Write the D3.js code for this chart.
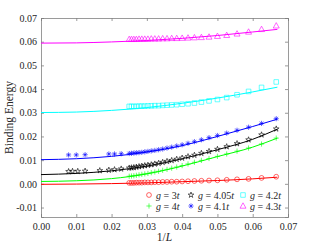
<!DOCTYPE html>
<html>
<head>
<meta charset="utf-8">
<script src="https://cdn.jsdelivr.net/npm/d3@7"></script>
<style>
  html, body { margin: 0; padding: 0; background: #fff; }
  text { font-family: "Liberation Serif", "DejaVu Serif", serif; fill: #262626; }
</style>
</head>
<body>
<div id="chart"></div>
<script>
const width = 319
const height = 246
const margin = { top: 18, right: 31, bottom: 29, left: 41 }

const xTicks = [0, 0.01, 0.02, 0.03, 0.04, 0.05, 0.06, 0.07]
const yTicks = [-0.01, 0, 0.01, 0.02, 0.03, 0.04, 0.05, 0.06, 0.07]

// system sizes L, plotted at 1/L
const sizesL = [15, 16, 17, 18, 19, 20, 21, 22, 23, 24, 25, 26, 27, 28, 29, 30, 31, 32, 33, 34, 35, 36, 37, 38, 39, 40]
const sizesBlack = [15, 16, 17, 18, 19, 20, 21, 22, 23, 24, 25, 26, 27, 28, 29, 30, 31, 32, 33, 34, 35, 36, 37, 38, 39, 40, 44, 48, 52, 60, 80, 96, 112, 128]
const sizesBlue = [15, 16, 17, 18, 19, 20, 21, 22, 23, 24, 25, 26, 27, 28, 29, 30, 31, 32, 33, 34, 35, 36, 37, 38, 39, 40, 44, 48, 52, 80, 100, 128]

const energy3 = [.0030, .0025, .0021, .0019, .0017, .0015, .0014, .0013, .0012, .0011, .0010, .0009, .0009, .0008, .0008, .0007, .0007, .0006, .0006, .0006, .0005, .0005, .0005, .0004, .0004, .0004]
const energy4 = [.0193, .0168, .0151, .0138, .0126, .0116, .0107, .0099, .0091, .0084, .0077, .0071, .0066, .0061, .0057, .0053, .0050, .0047, .0044, .0042, .0040, .0038, .0036, .0034, .0033, .0032]
const energy405 = [.0232, .0207, .0186, .0170, .0157, .0146, .0137, .0129, .0121, .0115, .0109, .0104, .0099, .0095, .0091, .0087, .0084, .0081, .0079, .0077, .0075, .0073, .0071, .0069, .0068, .0067, .0063, .0060, .0058, .0056, .0054, .0053, .0053, .0052]
const energy41 = [.0275, .0255, .0239, .0226, .0214, .0204, .0195, .0186, .0178, .0171, .0165, .0160, .0155, .0151, .0147, .0144, .0141, .0139, .0137, .0135, .0133, .0132, .0131, .0130, .0129, .0128, .0127, .0126, .0126, .0123, .0122, .0122]
const energy42 = [.0430, .0407, .0390, .0376, .0364, .0356, .0350, .0345, .0341, .0338, .0336, .0334, .0333, .0332, .0331, .0330, .0330, .0329, .0329, .0328, .0328, .0328, .0327, .0327, .0327, .0327]
const energy43 = [.0667, .0652, .0641, .0633, .0627, .0623, .0620, .0618, .0617, .0616, .0615, .0614, .0614, .0613, .0613, .0612, .0612, .0612, .0611, .0611, .0611, .0611, .0610, .0610, .0610, .0610]

// fitted curves, read at these 1/L values
const fitX = [0, 0.01, 0.02, 0.03, 0.04, 0.05, 0.06, 0.067]
const fit3 = [-.0002, -.0001, .0001, .0004, .0009, .0014, .0021, .0028]
const fit4 = [.0010, .0013, .0022, .0042, .0075, .0115, .0155, .0193]
const fit405 = [.0039, .0044, .0055, .0075, .0106, .0144, .0188, .0231]
const fit41 = [.0102, .0106, .0116, .0134, .0161, .0200, .0242, .0273]
const fit42 = [.0301, .0303, .0310, .0322, .0340, .0362, .0388, .0408]
const fit43 = [.0594, .0595, .0599, .0605, .0614, .0626, .0641, .0652]

const labels = ['3', '4', '4.05', '4.1', '4.2', '4.3']
const colors = ['#ff0000', '#00ff00', '#000000', '#0000ff', '#00ffff', '#ff00ff']
const markers = ['circle', 'plus', 'star', 'asterisk', 'square', 'triangle']

const series = [
  { L: sizesL, e: energy3, fit: fit3 },
  { L: sizesL, e: energy4, fit: fit4 },
  { L: sizesBlack, e: energy405, fit: fit405 },
  { L: sizesBlue, e: energy41, fit: fit41 },
  { L: sizesL, e: energy42, fit: fit42 },
  { L: sizesL, e: energy43, fit: fit43 },
]

const svg = d3.select('#chart').append('svg')
  .attr('width', width)
  .attr('height', height)

const x = d3.scaleLinear().domain([0, 0.07]).range([margin.left, width - margin.right])
const y = d3.scaleLinear().domain([-0.014, 0.07]).range([height - margin.bottom, margin.top])

// marker paths, centred on 0,0
function markerPath(type) {
  const p = d3.path()
  if (type === 'circle') {
    p.arc(0, 0, 2.4, 0, 2 * Math.PI)
  } else if (type === 'square') {
    p.rect(-2.3, -2.3, 4.6, 4.6)
  } else if (type === 'triangle') {
    p.moveTo(0, -3.2); p.lineTo(3, 2.2); p.lineTo(-3, 2.2); p.closePath()
  } else if (type === 'plus') {
    p.moveTo(-2.6, 0); p.lineTo(2.6, 0); p.moveTo(0, -2.6); p.lineTo(0, 2.6)
  } else if (type === 'asterisk') {
    const r = 2.6, d = r * 0.7071
    p.moveTo(-r, 0); p.lineTo(r, 0); p.moveTo(0, -r); p.lineTo(0, r)
    p.moveTo(-d, -d); p.lineTo(d, d); p.moveTo(-d, d); p.lineTo(d, -d)
  } else if (type === 'star') {
    const R = 3, r = R * 0.382
    for (let i = 0; i < 10; i++) {
      const a = -Math.PI / 2 + i * Math.PI / 5
      const rr = i % 2 === 0 ? R : r
      if (i === 0) p.moveTo(rr * Math.cos(a), rr * Math.sin(a))
      else p.lineTo(rr * Math.cos(a), rr * Math.sin(a))
    }
    p.closePath()
  }
  return p.toString()
}

// axes, ticks pointing inward, box all round
const axisColor = '#808080'
const gx = svg.append('g').attr('transform', `translate(0 ${height - margin.bottom})`)
  .call(d3.axisBottom(x).tickValues(xTicks).tickSize(-3).tickPadding(6).tickFormat(d => d.toFixed(2)))
const gxTop = svg.append('g').attr('transform', `translate(0 ${margin.top})`)
  .call(d3.axisTop(x).tickValues(xTicks).tickSize(-3).tickFormat(''))
const gy = svg.append('g').attr('transform', `translate(${margin.left} 0)`)
  .call(d3.axisLeft(y).tickValues(yTicks).tickSize(-3).tickPadding(4).tickFormat(d => d.toFixed(2)))
const gyRight = svg.append('g').attr('transform', `translate(${width - margin.right} 0)`)
  .call(d3.axisRight(y).tickValues(yTicks).tickSize(-3).tickFormat(''))

;[gx, gxTop, gy, gyRight].forEach(g => {
  g.selectAll('path.domain').attr('stroke', axisColor).attr('stroke-width', 0.8)
  g.selectAll('.tick line').attr('stroke', axisColor).attr('stroke-width', 0.8)
  g.selectAll('.tick text').attr('font-family', '"Liberation Serif", serif').attr('font-size', 10).attr('fill', '#262626')
})

// fitted lines
const line = d3.line()
  .x((d, i) => x(fitX[i]))
  .y(d => y(d))
  .curve(d3.curveMonotoneX)

series.forEach((s, k) => {
  svg.append('path')
    .attr('d', line(s.fit))
    .attr('fill', 'none')
    .attr('stroke', colors[k])
    .attr('stroke-width', 1)
})

// data points
series.forEach((s, k) => {
  svg.append('g').selectAll('path')
    .data(s.e)
    .enter()
    .append('path')
    .attr('d', markerPath(markers[k]))
    .attr('transform', (d, i) => `translate(${x(1 / s.L[i])} ${y(d)})`)
    .attr('fill', 'none')
    .attr('stroke', colors[k])
    .attr('stroke-width', 0.6)
})

// axis labels
svg.append('text')
  .attr('transform', `translate(9 ${(margin.top + height - margin.bottom) / 2}) rotate(-90)`)
  .attr('text-anchor', 'middle')
  .attr('dominant-baseline', 'central')
  .attr('font-size', 11.5)
  .text('Binding Energy')

const xl = svg.append('text')
  .attr('x', (margin.left + width - margin.right) / 2)
  .attr('y', 241)
  .attr('text-anchor', 'middle')
  .attr('font-size', 11.5)
xl.append('tspan').text('1/')
xl.append('tspan').attr('font-style', 'italic').text('L')

// legend, 3 columns filled column-wise
const legX = [149, 191, 243]
const legY = [195, 206]
series.forEach((s, k) => {
  const col = Math.floor(k / 2), row = k % 2
  const g = svg.append('g').attr('transform', `translate(${legX[col]} ${legY[row]})`)
  g.append('path')
    .attr('d', markerPath(markers[k]))
    .attr('fill', 'none')
    .attr('stroke', colors[k])
    .attr('stroke-width', 0.6)
  const t = g.append('text')
    .attr('x', 7)
    .attr('dominant-baseline', 'central')
    .attr('font-size', 10)
  t.append('tspan').attr('font-style', 'italic').text('g')
  t.append('tspan').text(' = ' + labels[k])
  t.append('tspan').attr('font-style', 'italic').text('t')
})
</script>
</body>
</html>
